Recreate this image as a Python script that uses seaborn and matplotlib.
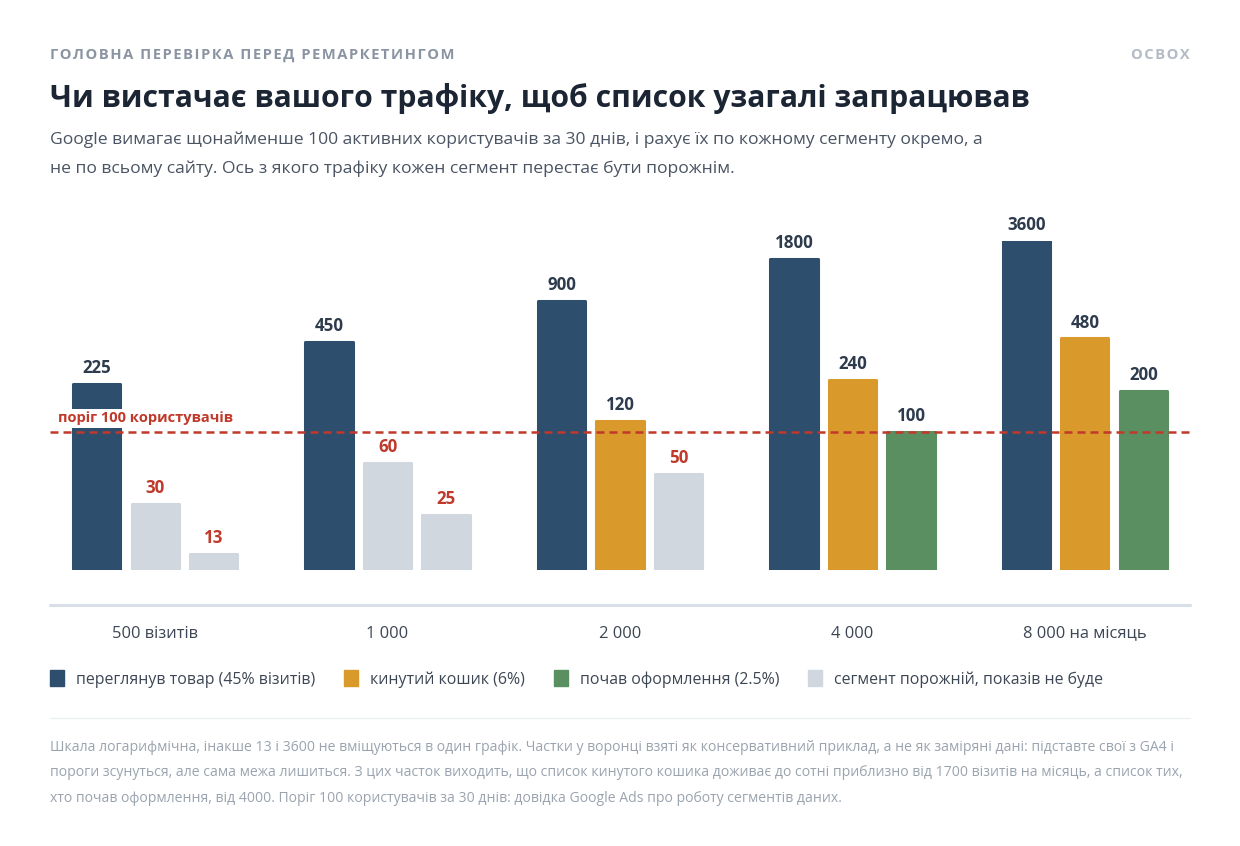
import seaborn as sns
import pandas as pd
import matplotlib.pyplot as plt
from matplotlib.lines import Line2D
from matplotlib.patches import Patch
from matplotlib.ticker import NullLocator

sns.set_style("white")
plt.rcParams["font.family"] = ["Open Sans", "DejaVu Sans"]

# data
traffic_labels = ["500 візитів", "1 000", "2 000", "4 000", "8 000 на місяць"]
segments = ["переглянув товар (45% візитів)", "кинутий кошик (6%)", "почав оформлення (2.5%)"]
viewed_product = [225, 450, 900, 1800, 3600]
abandoned_cart = [30, 60, 120, 240, 480]
started_checkout = [13, 25, 50, 100, 200]
empty_label = "сегмент порожній, показів не буде"
threshold = 100

NAVY, ORANGE, GREEN, EMPTY, RED = "#2e4e6d", "#d9992b", "#5a8f62", "#d0d7df", "#c0392b"
DARK, TEXT, MUTED = "#1b2533", "#3c4654", "#9aa3ae"
seg_colors = [NAVY, ORANGE, GREEN]

W, H = 1240, 846
fig = plt.figure(figsize=(W / 100, H / 100), dpi=100)
fig.patch.set_facecolor("white")


def fy(px):
    return 1 - px / H


def spaced(s):
    return "\u200a".join(s)


df = pd.DataFrame({
    "traffic": traffic_labels * 3,
    "segment": [s for s in segments for _ in traffic_labels],
    "users": viewed_product + abandoned_cart + started_checkout,
})

ax = fig.add_axes([50 / W, 1 - 570 / H, 1140 / W, 329 / H])
sns.barplot(data=df, x="traffic", y="users", hue="segment", palette=seg_colors,
            saturation=1, width=0.755, gap=0.195, errorbar=None, legend=False, ax=ax)
ax.set_yscale("log")
y_top = 2450
ax.set_ylim(10, y_top)
ax.set_xlim(-0.452, 4.452)
ax.yaxis.set_major_locator(NullLocator())
ax.yaxis.set_minor_locator(NullLocator())
sns.despine(ax=ax, left=True, bottom=True)
ax.set(xlabel="", ylabel="")
ax.set_xticks(range(len(traffic_labels)), traffic_labels)
ax.tick_params(axis="x", length=0, pad=40, labelsize=11.9, labelcolor=TEXT)

for container in ax.containers:
    for bar in container:
        v = bar.get_height()
        below = v < threshold
        color = EMPTY if below else bar.get_facecolor()
        bar.set_facecolor(color)
        bar.set_edgecolor(color)
        bar.set_linewidth(2.2)
        bar.set_joinstyle("round")
        ax.annotate(f"{v:.0f}", xy=(bar.get_x() + bar.get_width() / 2, min(v, y_top)),
                    xytext=(0, 5), textcoords="offset points", ha="center", va="bottom",
                    fontsize=12.2, fontweight="bold", color=RED if below else "#2d3b4d")

ax.axhline(threshold, color=RED, lw=1.8, ls=(0, (3.2, 2)), zorder=3)
ax.annotate("поріг 100 користувачів", xy=(0.007, threshold), xycoords=ax.get_yaxis_transform(),
            xytext=(0, 5), textcoords="offset points", ha="left", va="bottom",
            fontsize=10.5, fontweight="bold", color=RED, zorder=4,
            bbox=dict(boxstyle="square,pad=0.15", fc="white", ec="none"))

# baseline and separator
fig.add_artist(Line2D([50 / W, 1190 / W], [fy(605)] * 2, color="#d8dfe6", lw=2.2))
fig.add_artist(Line2D([50 / W, 1190 / W], [fy(718)] * 2, color="#eef1f4", lw=1))

# header texts
fig.text(50 / W, fy(55), spaced("ГОЛОВНА ПЕРЕВІРКА ПЕРЕД РЕМАРКЕТИНГОМ"), fontsize=10.6,
         fontweight="bold", color="#8a94a2", va="center", ha="left")
fig.text(1190 / W, fy(55), spaced("OCBOX"), fontsize=10.6, fontweight="bold",
         color="#b3bbc6", va="center", ha="right")
fig.text(50 / W, fy(98), "Чи вистачає вашого трафіку, щоб список узагалі запрацював",
         fontsize=21.7, fontweight="bold", color=DARK, va="center", ha="left")
subtitle = ["Google вимагає щонайменше 100 активних користувачів за 30 днів, і рахує їх по кожному сегменту окремо, а",
            "не по всьому сайту. Ось з якого трафіку кожен сегмент перестає бути порожнім."]
for i, line in enumerate(subtitle):
    fig.text(50 / W, fy(140 + 29 * i), line, fontsize=12.6, color="#4a5463", va="center", ha="left")

# legend
handles = [Patch(fc=c, ec=c) for c in seg_colors + [EMPTY]]
fig.legend(handles, segments + [empty_label], loc="center left", bbox_to_anchor=(50 / W, fy(679)),
           ncol=4, frameon=False, fontsize=11.4, labelcolor=TEXT, handlelength=0.88,
           handleheight=1.12, handletextpad=0.76, columnspacing=1.82, borderpad=0, borderaxespad=0)

notes = ["Шкала логарифмічна, інакше 13 і 3600 не вміщуються в один графік. Частки у воронці взяті як консервативний приклад, а не як заміряні дані: підставте свої з GA4 і",
         "пороги зсунуться, але сама межа лишиться. З цих часток виходить, що список кинутого кошика доживає до сотні приблизно від 1700 візитів на місяць, а список тих,",
         "хто почав оформлення, від 4000. Поріг 100 користувачів за 30 днів: довідка Google Ads про роботу сегментів даних."]
for i, line in enumerate(notes):
    fig.text(50 / W, fy(747 + 25.5 * i), line, fontsize=10.1, color=MUTED, va="center", ha="left")

fig.savefig("out.png", dpi=100, facecolor="white")
